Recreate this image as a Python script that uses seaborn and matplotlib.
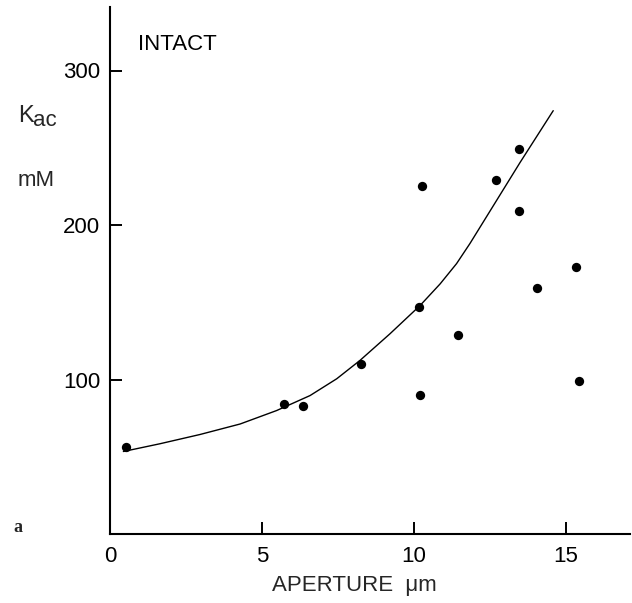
import matplotlib
matplotlib.use("Agg")
import matplotlib.pyplot as plt
import seaborn as sns
import pandas as pd

# Measured points: aperture (µm) vs K_ac (mM)
aperture = [0.53, 5.72, 6.35, 8.26, 10.17, 10.21, 10.26, 11.46, 12.71, 13.45, 13.44, 14.06, 15.34, 15.44]
k_ac = [56, 84, 83, 110, 147, 90, 225, 129, 229, 249, 209, 159, 173, 99]

# Fitted curve, sampled along its length
curve_x = [0.44, 1.64, 2.96, 4.28, 5.48, 6.58, 7.46, 8.22, 9.21, 10.20, 10.86, 11.40,
           11.84, 12.83, 13.49, 14.58]
curve_y = [53.4, 58.4, 64.4, 71.2, 79.9, 89.6, 100.5, 112.3, 129.6, 147.9, 161.9, 175.0,
           188.0, 219.5, 240.5, 274.0]

x_ticks = [0, 5, 10, 15]
y_ticks = [100, 200, 300]

sns.set_style("ticks")
plt.rcParams["font.family"] = ["Liberation Sans", "DejaVu Sans"]

W, H, DPI = 632, 603, 100
fig = plt.figure(figsize=(W / DPI, H / DPI), dpi=DPI)
ax = fig.add_axes([110 / W, (H - 534) / H, (630 - 110) / W, (534 - 7) / H])

pts = pd.DataFrame({"aperture": aperture, "k_ac": k_ac})
fit = pd.DataFrame({"x": curve_x, "y": curve_y})

sns.lineplot(data=fit, x="x", y="y", sort=False, color="black", linewidth=1.0, ax=ax)
sns.scatterplot(data=pts, x="aperture", y="k_ac", color="black", s=45,
                edgecolor="black", linewidth=0, ax=ax, zorder=3)

ax.set_xlim(0, (630 - 110) / 30.4)
ax.set_ylim(0, (534 - 7) / 1.545)
ax.set_xticks(x_ticks)
ax.set_yticks(y_ticks)
ax.set_xticklabels([str(v) for v in x_ticks])
ax.set_yticklabels([str(v) for v in y_ticks])
ax.tick_params(direction="in", length=8.6, width=1.4, labelsize=16, color="black",
               labelcolor="black")
ax.tick_params(axis="x", pad=9)
ax.tick_params(axis="y", pad=7)
for side in ("top", "right"):
    ax.spines[side].set_visible(False)
for side in ("left", "bottom"):
    ax.spines[side].set_linewidth(1.5)
    ax.spines[side].set_color("black")

ax.set_xlabel("")
ax.set_ylabel("")

ax.text(0.92, 316.8, "INTACT", fontsize=16, va="center", ha="left", color="black")
# Axis quantity K_ac with a large, slightly lowered subscript, and its unit
fig.text(18 / W, 1 - 122 / H, "K", fontsize=17, va="baseline", ha="left")
fig.text(33 / W, 1 - 126 / H, "ac", fontsize=16, va="baseline", ha="left")
fig.text(18 / W, 1 - 180 / H, "mM", fontsize=16, va="center", ha="left")
fig.text(354 / W, 1 - 586 / H, "APERTURE  \u03bcm", fontsize=16, va="center", ha="center")
fig.text(13 / W, 1 - 527 / H, "a", fontsize=13, fontweight="bold", va="center", ha="left",
         family=["Liberation Serif", "DejaVu Serif"])

fig.savefig("out.png", dpi=DPI)
